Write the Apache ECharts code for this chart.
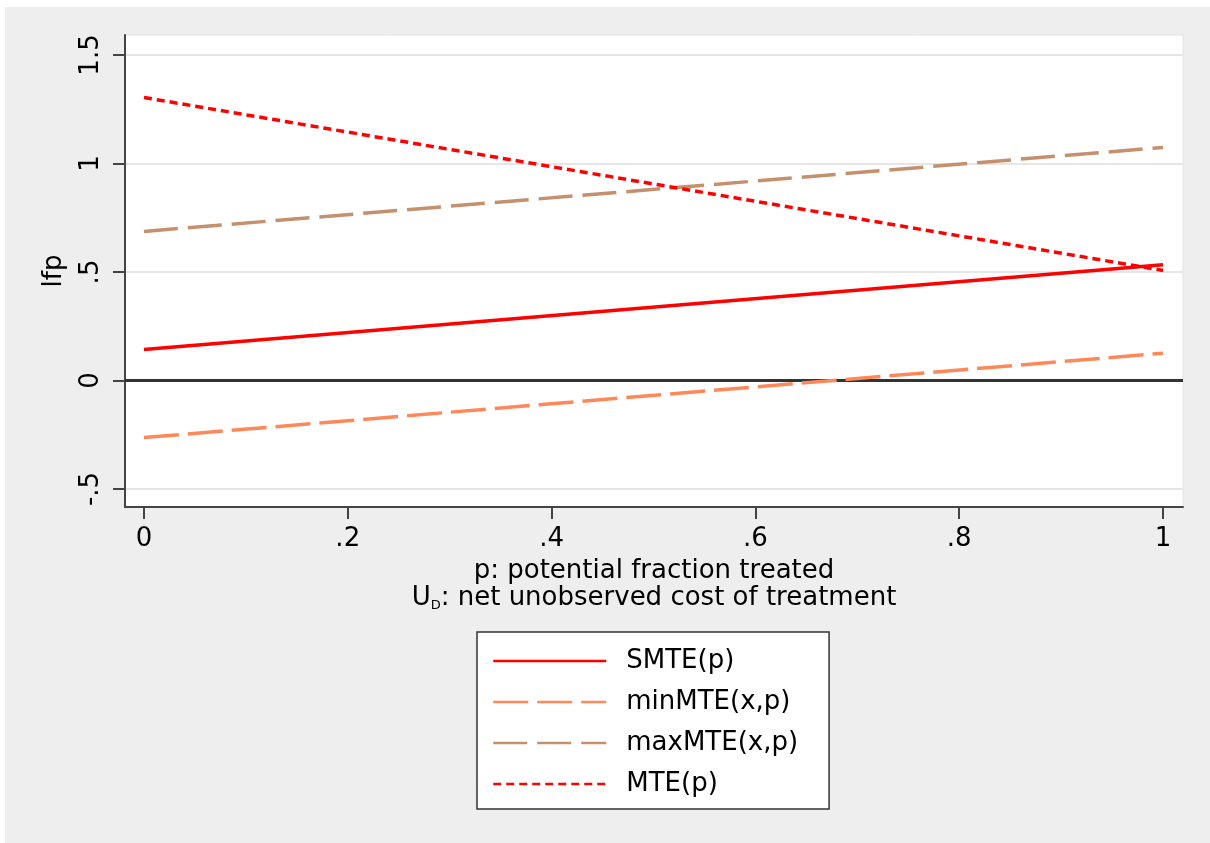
<!DOCTYPE html>
<html>
<head>
<meta charset="utf-8">
<title>MTE bounds</title>
<script src="https://cdn.jsdelivr.net/npm/echarts@6/dist/echarts.min.js"></script>
<style>
  html, body { margin: 0; padding: 0; background: #ffffff; overflow: hidden; }
  #chart { position: absolute; left: 5px; top: 7px; width: 1205px; height: 836px; }
</style>
</head>
<body>
<div id="chart"></div>
<script>
// data: each curve is a straight line from p=0 to p=1
var pValues = [0, 1];
var smte = [0.143, 0.533];
var minMte = [-0.263, 0.126];
var maxMte = [0.687, 1.074];
var mte = [1.304, 0.507];

var seriesNames = ['SMTE(p)', 'minMTE(x,p)', 'maxMTE(x,p)', 'MTE(p)'];

var xTicks = [0, 0.2, 0.4, 0.6, 0.8, 1];
var xTickLabels = ['0', '.2', '.4', '.6', '.8', '1'];
var yTicks = [-0.5, 0, 0.5, 1, 1.5];
var yTickLabels = ['-.5', '0', '.5', '1', '1.5'];

var FONT = 'DejaVu Sans';

function pairs(ys) {
  var out = [];
  for (var i = 0; i < pValues.length; i++) {
    out.push([pValues[i], ys[i]]);
  }
  return out;
}

function tickLabel(ticks, labels) {
  return function (v) {
    for (var i = 0; i < ticks.length; i++) {
      if (Math.abs(ticks[i] - v) < 1e-9) return labels[i];
    }
    return '';
  };
}

var chart = echarts.init(document.getElementById('chart'));

var option = {
  backgroundColor: '#eeeeee',
  animation: false,
  grid: {
    left: 120,
    top: 28,
    right: 27,
    bottom: 336,
    show: true,
    backgroundColor: '#ffffff',
    borderColor: '#e4e4e4',
    borderWidth: 1
  },
  legend: {
    orient: 'vertical',
    left: 472,
    top: 625,
    data: seriesNames,
    itemWidth: 113,
    itemHeight: 20,
    itemGap: 11,
    padding: [14, 31, 10, 15],
    backgroundColor: '#ffffff',
    borderColor: '#333333',
    borderWidth: 1.5,
    borderRadius: 0,
    // hide the marker dot that line series put in the middle of the legend line
    itemStyle: { color: 'rgba(0,0,0,0)', borderColor: 'rgba(0,0,0,0)', borderWidth: 0, opacity: 0 },
    lineStyle: { width: 2.5 },
    textStyle: {
      fontFamily: FONT,
      fontSize: 26,
      color: '#000000',
      lineHeight: 30,
      padding: [0, 0, 0, 15]
    }
  },
  xAxis: {
    type: 'value',
    min: -0.0186,
    max: 1.0196,
    name: '{t|p: potential fraction treated}\n{t|U}{s|D}{t|: net unobserved cost of treatment}',
    nameLocation: 'middle',
    nameGap: 51,
    nameTextStyle: {
      fontFamily: FONT,
      fontSize: 26,
      color: '#000000',
      lineHeight: 27,
      rich: {
        t: { fontFamily: FONT, fontSize: 26, color: '#000000', lineHeight: 27 },
        s: { fontFamily: FONT, fontSize: 13, color: '#000000', lineHeight: 27, verticalAlign: 'bottom' }
      }
    },
    axisLine: { show: true, onZero: false, lineStyle: { color: '#444444', width: 2 } },
    axisTick: { show: true, length: 12, customValues: xTicks, lineStyle: { color: '#444444', width: 2 } },
    axisLabel: {
      customValues: xTicks,
      formatter: tickLabel(xTicks, xTickLabels),
      fontFamily: FONT,
      fontSize: 26,
      color: '#000000',
      margin: 19
    },
    splitLine: { show: false }
  },
  yAxis: {
    type: 'value',
    min: -0.583,
    max: 1.592,
    name: 'lfp',
    nameLocation: 'middle',
    nameGap: 58,
    nameTextStyle: { fontFamily: FONT, fontSize: 26, color: '#000000' },
    axisLine: { show: true, onZero: false, lineStyle: { color: '#444444', width: 2 } },
    axisTick: { show: true, length: 12, customValues: yTicks, lineStyle: { color: '#444444', width: 2 } },
    axisLabel: {
      customValues: yTicks,
      formatter: tickLabel(yTicks, yTickLabels),
      rotate: 90,
      fontFamily: FONT,
      fontSize: 26,
      color: '#000000',
      margin: 21
    },
    splitLine: { show: true, lineStyle: { color: '#e6e6e6', width: 2 } }
  },
  series: [
    {
      name: seriesNames[0],
      type: 'line',
      data: pairs(smte),
      symbol: 'none',
      silent: true,
      z: 5,
      lineStyle: { color: '#ff0000', width: 3.5, type: 'solid' },
      itemStyle: { color: '#ff0000' },
      markLine: {
        silent: true,
        symbol: ['none', 'none'],
        label: { show: false },
        lineStyle: { color: '#333333', width: 3, type: 'solid' },
        data: [{ yAxis: 0 }],
        z: 2
      }
    },
    {
      name: seriesNames[1],
      type: 'line',
      data: pairs(minMte),
      symbol: 'none',
      silent: true,
      z: 4,
      lineStyle: { color: '#ff8858', width: 3.5, type: [35, 9] },
      itemStyle: { color: '#ff8858' }
    },
    {
      name: seriesNames[2],
      type: 'line',
      data: pairs(maxMte),
      symbol: 'none',
      silent: true,
      z: 4,
      lineStyle: { color: '#c4906e', width: 3.5, type: [34, 10] },
      itemStyle: { color: '#c4906e' }
    },
    {
      name: seriesNames[3],
      type: 'line',
      data: pairs(mte),
      symbol: 'none',
      silent: true,
      z: 6,
      lineStyle: { color: '#ff0000', width: 3.5, type: [8, 5] },
      itemStyle: { color: '#ff0000' }
    }
  ]
};

chart.setOption(option);
</script>
</body>
</html>
